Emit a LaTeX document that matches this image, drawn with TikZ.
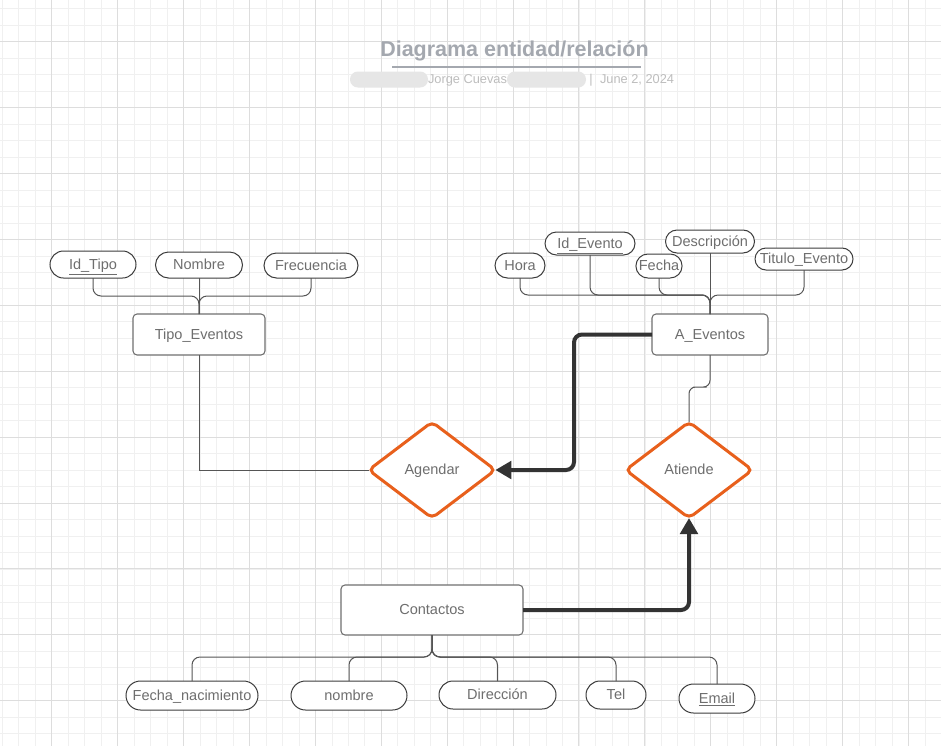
\documentclass[tikz,border=0pt]{standalone}
\usepackage{fontspec}
\setmainfont{Liberation Sans}
\usetikzlibrary{shapes.misc,shapes.geometric,arrows.meta}
\definecolor{gridminor}{HTML}{F0F0F0}
\definecolor{gridmajor}{HTML}{DDDDDD}
\definecolor{txt}{HTML}{6E6E6E}
\definecolor{edge}{HTML}{555555}
\definecolor{pillb}{HTML}{3C3C3C}
\definecolor{entb}{HTML}{707070}
\definecolor{orng}{HTML}{E8601C}
\definecolor{thk}{HTML}{333333}
\definecolor{ttl}{HTML}{A4A8AF}
\definecolor{subt}{HTML}{BDBDBD}
\definecolor{redact}{HTML}{E6E6E6}
\begin{document}
\begin{tikzpicture}[x=0.75pt,y=-0.75pt,
 lbl/.style={font=\fontsize{10.9}{13}\selectfont, text=txt, text height=9.4pt, text depth=2.3pt},
 entity/.style 2 args={lbl, draw=entb, line width=0.8pt, fill=white, rounded corners=3pt, minimum width=#1*0.75pt, minimum height=#2*0.75pt, inner sep=0pt, outer sep=0pt},
 attrib/.style 2 args={lbl, rounded rectangle, draw=pillb, line width=0.75pt, fill=white, minimum width=#1*0.75pt, minimum height=#2*0.75pt, inner sep=0pt, outer sep=0pt},
 relation/.style={lbl, diamond, draw=orng, line width=2.25pt, fill=white, rounded corners=4pt, minimum width=95pt, minimum height=72pt, inner sep=0pt, outer sep=0pt},
 conn/.style={draw=edge, line width=0.75pt, rounded corners=6pt},
 heavy/.style={draw=thk, line width=3pt, rounded corners=6pt, -{Triangle[length=12pt,width=13pt]}},
 subtext/.style={font=\fontsize{9.6}{11}\selectfont, text=subt, inner sep=0pt},
]
\useasboundingbox (0,0) rectangle (941,746);
\fill[white] (0,0) rectangle (941,746);
\begin{scope}
\clip (0,0) rectangle (941,746);
\foreach \i in {0,...,57} \draw[gridminor, line width=0.75pt] ({2.5+16.475*\i},0) -- ++(0,746);
\foreach \j in {0,...,45} \draw[gridminor, line width=0.75pt] (0,{8.9+16.475*\j}) -- ++(941,0);
\foreach \i in {0,...,14} \draw[gridmajor, line width=0.75pt] ({51.7+65.9*\i},0) -- ++(0,746);
\foreach \j in {0,...,11} \draw[gridmajor, line width=0.75pt] (0,{41.7+65.9*\j}) -- ++(941,0);
\end{scope}

% title
\node[font=\bfseries\fontsize{16.1}{19}\selectfont, text=ttl, inner sep=0pt] (title) at (514.5,51) {Diagrama entidad/relación};
\draw[ttl, line width=1.5pt] (392,67) -- (641,67);
\fill[redact, rounded corners=5.9pt] (350,71.5) rectangle (428,87.5);
\fill[redact, rounded corners=5.9pt] (507,71.5) rectangle (586,87.5);
\node[subtext] (author) at (467.5,80) {Jorge Cuevas};
\node[subtext] (sep) at (591,80) {|};
\node[subtext] (date) at (637,80) {June 2, 2024};

% entities
\node[entity={132}{41}] (tipo) at (199,334.5) {Tipo\_Eventos};
\node[entity={116}{41}] (aev) at (710,334.5) {A\_Eventos};
\node[entity={182}{50}] (cont) at (432,610) {Contactos};

% relations
\node[relation] (agendar) at (432,470) {Agendar};
\node[relation] (atiende) at (689,470) {Atiende};

% attributes Tipo_Eventos
\node[attrib={86}{27}] (idtipo) at (93,264.5) {\underline{Id\_Tipo}};
\node[attrib={87}{26}] (nombre1) at (199,265) {Nombre};
\node[attrib={94}{25}] (frec) at (311,265.5) {Frecuencia};

% attributes A_Eventos
\node[attrib={50}{25}] (hora) at (520,265.5) {Hora};
\node[attrib={90}{23}] (idev) at (590,243.5) {\underline{Id\_Evento}};
\node[attrib={46}{24}] (fecha) at (659,266) {Fecha};
\node[attrib={89}{23}] (desc) at (710,241.5) {Descripción};
\node[attrib={98}{22}] (titulo) at (804,259) {Titulo\_Evento};

% attributes Contactos
\node[attrib={132}{29}] (fnac) at (192,695.5) {Fecha\_nacimiento};
\node[attrib={116}{29}] (nombre2) at (349,695.5) {nombre};
\node[attrib={117}{28}] (dir) at (497.5,695) {Dirección};
\node[attrib={60}{28}] (tel) at (616,695) {Tel};
\node[attrib={76}{29}] (email) at (717,698.5) {\underline{Email}};

% junctions
\coordinate (jtl) at (199,296);
\coordinate (jtr) at (710,295);
\coordinate (jb) at (432,657);
\coordinate (smid) at (700,387);
\coordinate (bendA) at (574,470);

% attribute connectors
\draw[conn] (idtipo.south) |- (jtl) -- (tipo.north);
\draw[conn] (nombre1.south) -- (tipo.north);
\draw[conn] (frec.south) |- (jtl) -- (tipo.north);

\draw[conn] (hora.south) |- (jtr) -- (aev.north);
\draw[conn] (idev.south) |- (jtr) -- (aev.north);
\draw[conn] (fecha.south) |- (jtr) -- (aev.north);
\draw[conn] (desc.south) -- (aev.north);
\draw[conn] (titulo.south) |- (jtr) -- (aev.north);

\draw[conn] (cont.south) -- (jb) -| (fnac.north);
\draw[conn] (cont.south) -- (jb) -| (nombre2.north);
\draw[conn] (cont.south) -- (jb) -| (dir.north);
\draw[conn] (cont.south) -- (jb) -| (tel.north);
\draw[conn] (cont.south) -- (jb) -| (email.north);

% relation connectors
\draw[conn, rounded corners=0pt] (tipo.south) |- (agendar.west);
\draw[conn, rounded corners=5pt] (aev.south) |- (smid) -| (atiende.north);
\draw[heavy] (aev.west) -| (bendA) -- (agendar.east);
\draw[heavy] (cont.east) -| (atiende.south);
\end{tikzpicture}
\end{document}
